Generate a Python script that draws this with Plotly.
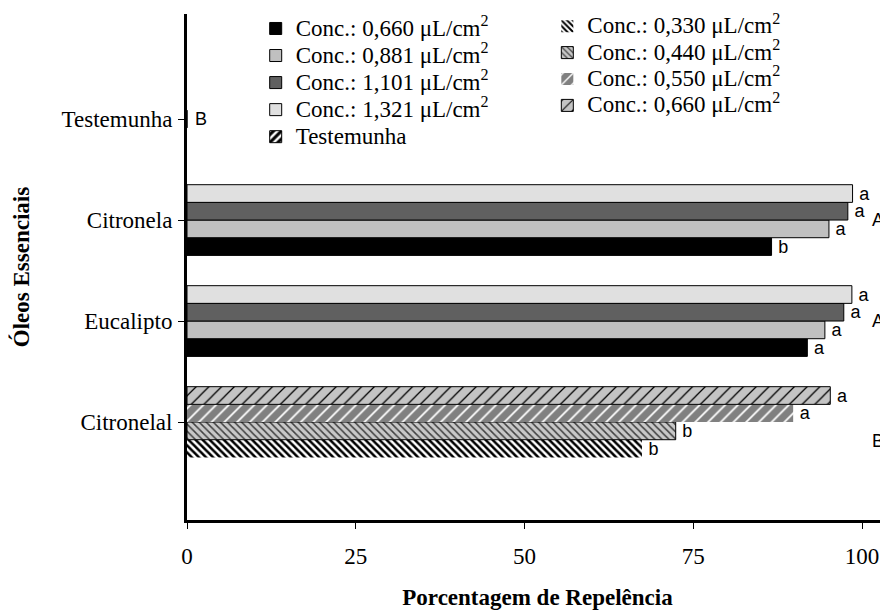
import plotly.graph_objects as go

categories = ["Citronelal", "Eucalipto", "Citronela", "Testemunha"]
cat_pos = [0, 1, 2, 3]

# Citronela & Eucalipto series (values for [Eucalipto, Citronela])
main_series = ["Conc.: 0,660 μL/cm<sup>2</sup>", "Conc.: 0,881 μL/cm<sup>2</sup>",
               "Conc.: 1,101 μL/cm<sup>2</sup>", "Conc.: 1,321 μL/cm<sup>2</sup>"]
main_vals = [[91.9, 86.6], [94.5, 95.1], [97.3, 97.9], [98.5, 98.6]]
main_letters = [["a", "b"], ["a", "a"], ["a", "a"], ["a", "a"]]
main_colors = ["#000000", "#c0c0c0", "#606060", "#e0e0e0"]

# Citronelal series
cit_series = ["Conc.: 0,330 μL/cm<sup>2</sup>", "Conc.: 0,440 μL/cm<sup>2</sup>",
              "Conc.: 0,550 μL/cm<sup>2</sup>", "Conc.: 0,660 μL/cm<sup>2</sup>"]
cit_vals = [67.4, 72.4, 89.8, 95.3]
cit_letters = ["b", "b", "a", "a"]

# Control
test_name = "Testemunha"
test_val = [0]
test_letter = ["B"]

group_letters = ["B", "A", "A"]  # Citronelal, Eucalipto, Citronela
group_letter_y = [-0.19, 1, 2]

serif = "Liberation Serif"
sans = "Liberation Sans"
FS = 23


def big(name):
    return '<span style="font-size:23px">' + name + '</span>'


W = 0.175
fig = go.Figure()


def lab(t):
    return ["\u2009" + s for s in t]


for i, name in enumerate(main_series):
    fig.add_trace(go.Bar(
        orientation="h", y=[1, 2], x=main_vals[i], name=big(name),
        width=W, offset=-0.35 + i * W,
        marker=dict(color=main_colors[i], line=dict(color="#000000", width=1)),
        text=lab(main_letters[i]), textposition="outside", cliponaxis=False,
        textfont=dict(family=sans, size=18, color="#000000"),
        legend="legend",
    ))

fig.add_trace(go.Bar(
    orientation="h", y=[3], x=test_val, name=big(test_name),
    width=W, offset=-W / 2,
    marker=dict(color="#ffffff", line=dict(color="#000000", width=1),
                pattern=dict(shape="/", fgcolor="#000000", bgcolor="#ffffff",
                             size=7, solidity=0.55, fillmode="replace")),
    text=[" " + s for s in test_letter], textposition="outside", cliponaxis=False,
    textfont=dict(family=sans, size=18, color="#000000"),
    legend="legend",
))

cit_styles = [
    dict(shape="\\", fgcolor="#000000", bgcolor="#ffffff", size=5, solidity=0.5),
    dict(shape="\\", fgcolor="#404040", bgcolor="#c8c8c8", size=5, solidity=0.3),
    dict(shape="/", fgcolor="#ffffff", bgcolor="#808080", size=9, solidity=0.2),
    dict(shape="/", fgcolor="#000000", bgcolor="#c4c4c4", size=9, solidity=0.14),
]
cit_lines = [0, 1, 0, 1]
for i, name in enumerate(cit_series):
    st = cit_styles[i]
    fig.add_trace(go.Bar(
        orientation="h", y=[0], x=[cit_vals[i]], name=big(name),
        width=W, offset=-0.35 + i * W,
        marker=dict(color=st["bgcolor"],
                    line=dict(color="#000000", width=cit_lines[i]),
                    pattern=dict(shape=st["shape"], fgcolor=st["fgcolor"], bgcolor=st["bgcolor"],
                                 size=st["size"], solidity=st["solidity"], fillmode="replace")),
        text=lab([cit_letters[i]]), textposition="outside", cliponaxis=False,
        textfont=dict(family=sans, size=18, color="#000000"),
        legend="legend2",
    ))

for yv, letter in zip(group_letter_y, group_letters):
    fig.add_annotation(x=101.2, y=yv, text=letter, showarrow=False, xanchor="left",
                       font=dict(family=sans, size=18, color="#000000"))

fig.update_layout(
    width=880, height=603,
    margin=dict(l=179, r=0, t=2, b=91),
    paper_bgcolor="#ffffff", plot_bgcolor="#ffffff",
    barmode="overlay",
    showlegend=True,
    legend=dict(x=0.098, y=1.008, xanchor="left", yanchor="top", traceorder="normal",
                font=dict(family=serif, size=18.5, color="#000000"),
                bgcolor="rgba(0,0,0,0)", tracegroupgap=0, itemwidth=30),
    legend2=dict(x=0.514, y=1.012, xanchor="left", yanchor="top", traceorder="normal",
                 font=dict(family=serif, size=18, color="#000000"),
                 bgcolor="rgba(0,0,0,0)", tracegroupgap=0, itemwidth=30),
    xaxis=dict(range=[0, 103.85], tickvals=[0, 25, 50, 75, 100],
               showgrid=False, zeroline=False,
               showline=True, linewidth=3, linecolor="#000000",
               ticks="outside", ticklen=6, tickwidth=1, tickcolor="#000000",
               ticklabelstandoff=7,
               tickfont=dict(family=serif, size=FS, color="#000000"),
               title=dict(text="<b>Porcentagem de Repelência</b>", standoff=22,
                          font=dict(family=serif, size=FS, color="#000000"))),
    yaxis=dict(range=[-0.97, 4.04], tickvals=cat_pos, ticktext=categories,
               showgrid=False, zeroline=False,
               showline=True, linewidth=3, linecolor="#000000",
               ticks="outside", ticklen=6, tickwidth=1, tickcolor="#000000",
               ticklabelstandoff=1,
               tickfont=dict(family=serif, size=FS, color="#000000"),
               title=dict(text="<b>Óleos Essenciais</b>", standoff=32,
                          font=dict(family=serif, size=FS, color="#000000"))),
)
fig.update_traces(constraintext="none")

fig.write_html("out.html")
